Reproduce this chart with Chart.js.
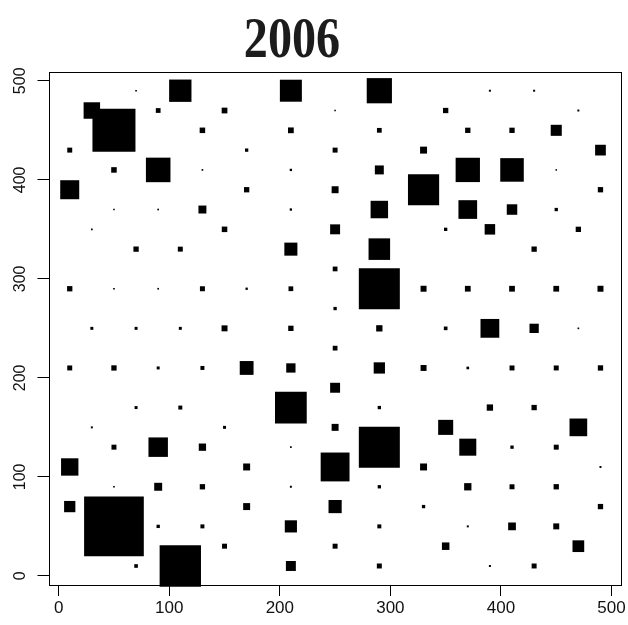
<!DOCTYPE html>
<html>
<head>
<meta charset="utf-8">
<script src="https://cdn.jsdelivr.net/npm/chart.js@4/dist/chart.umd.min.js"></script>
<style>
  html, body { margin: 0; padding: 0; background: #ffffff; }
  #wrap { width: 628px; height: 625px; }
</style>
</head>
<body>
<div id="wrap"><canvas id="c" width="628" height="625"></canvas></div>
<script>
// Square symbols on a 20-unit lattice, one row of the grid per entry.
// rowY: y of the row; rowX: x positions in that row; rowSide: side of each square (x units).
const chartTitle = '2006';
const tickValues = [0, 100, 200, 300, 400, 500];

const rowY = [490, 470, 450, 430, 410, 390, 370, 350, 330, 310, 290, 270, 250,
              230, 210, 190, 170, 150, 130, 110, 90, 70, 50, 30, 10];

const rowX = [
  [70, 110, 210, 290, 390, 430],
  [30, 90, 150, 250, 350, 470],
  [50, 130, 210, 290, 370, 410, 450],
  [10, 170, 250, 330, 490],
  [50, 90, 130, 210, 290, 370, 410, 450],
  [10, 170, 250, 330, 490],
  [50, 90, 130, 210, 290, 370, 410, 450],
  [30, 150, 250, 350, 390, 470],
  [70, 110, 210, 290, 430],
  [250],
  [10, 50, 90, 130, 170, 210, 290, 330, 370, 410, 450, 490],
  [250],
  [30, 70, 110, 150, 210, 290, 350, 390, 430, 470],
  [250],
  [10, 50, 90, 130, 170, 210, 290, 330, 370, 410, 450, 490],
  [250],
  [70, 110, 210, 290, 390, 430],
  [30, 150, 250, 350, 470],
  [50, 90, 130, 210, 290, 370, 410, 450],
  [10, 170, 250, 330, 490],
  [50, 90, 130, 210, 290, 370, 410, 450],
  [10, 170, 250, 330, 490],
  [50, 90, 130, 210, 290, 370, 410, 450],
  [150, 250, 350, 470],
  [70, 110, 210, 290, 390, 430]
];

const rowSide = [
  [1.5, 20.2, 19.9, 22.8, 1.8, 1.8],
  [14.9, 4.3, 5.2, 1.4, 4.8, 1.8],
  [38.9, 5.0, 5.2, 4.3, 4.8, 4.8, 10.0],
  [4.5, 3.0, 4.5, 6.3, 9.7],
  [5.0, 22.2, 1.5, 2.1, 8.1, 22.0, 21.3, 1.4],
  [17.2, 4.8, 6.3, 28.2, 4.8],
  [1.4, 1.5, 7.2, 2.1, 15.8, 16.9, 9.5, 3.0],
  [1.5, 5.0, 9.0, 3.0, 9.5, 4.8],
  [4.8, 4.5, 11.8, 19.5, 4.8],
  [4.3],
  [4.8, 1.5, 1.5, 4.5, 2.1, 4.3, 37.1, 5.4, 5.2, 5.2, 5.2, 5.4],
  [3.0],
  [2.7, 2.7, 2.7, 5.4, 4.8, 5.7, 3.3, 17.0, 8.4, 1.5],
  [4.3],
  [4.5, 4.8, 2.7, 3.6, 12.5, 8.4, 10.2, 5.4, 2.4, 4.5, 4.5, 4.8],
  [9.0],
  [2.7, 3.6, 28.7, 3.0, 5.7, 4.8],
  [1.8, 2.7, 6.3, 13.6, 16.0],
  [4.5, 17.6, 6.6, 1.5, 37.1, 15.4, 3.0, 4.5],
  [15.7, 6.3, 26.1, 6.3, 1.8],
  [1.5, 7.2, 4.8, 1.8, 3.0, 6.6, 4.5, 4.8],
  [10.2, 6.3, 11.9, 3.0, 4.8],
  [54.0, 3.0, 3.6, 11.0, 3.6, 1.8, 7.0, 5.4],
  [4.5, 4.5, 6.8, 10.6],
  [3.3, 37.4, 9.0, 4.5, 1.8, 4.5]
];

// Flatten the rows into scatter points carrying their side length.
const points = [];
rowY.forEach((y, r) => {
  rowX[r].forEach((x, i) => {
    points.push({ x: x, y: y, side: rowSide[r][i] });
  });
});

const axisMin = -9.2;
const axisMax = 509.2;

// Plot frame drawn round the whole chart area.
const framePlugin = {
  id: 'frame',
  beforeDatasetsDraw(chart) {
    const a = chart.chartArea;
    const ctx = chart.ctx;
    ctx.save();
    ctx.strokeStyle = '#000';
    ctx.lineWidth = 1;
    ctx.strokeRect(Math.round(a.left) + 0.5, Math.round(a.top) + 0.5,
                   Math.round(a.right - a.left) - 1, Math.round(a.bottom - a.top));
    ctx.restore();
  }
};

// Heading in a bold, narrow serif.
const headingPlugin = {
  id: 'heading',
  afterDraw(chart) {
    const ctx = chart.ctx;
    ctx.save();
    ctx.fillStyle = '#1c1c1c';
    ctx.font = 'bold 58px "Liberation Serif", "Times New Roman", serif';
    ctx.textAlign = 'center';
    ctx.textBaseline = 'alphabetic';
    ctx.translate(292, 57);
    ctx.scale(0.83, 1);
    ctx.fillText(chartTitle, 0, 0);
    ctx.restore();
  }
};

const setTicks = (scale) => {
  scale.ticks = tickValues.map(v => ({ value: v }));
};

new Chart(document.getElementById('c'), {
  type: 'scatter',
  data: {
    datasets: [{
      data: points,
      pointStyle: 'rect',
      backgroundColor: '#000',
      borderWidth: 0,
      clip: false,
      radius: (ctx) => {
        const p = ctx.raw;
        const xs = ctx.chart.scales.x;
        if (!p || !xs) return 0;
        const sidePx = Math.abs(xs.getPixelForValue(p.side) - xs.getPixelForValue(0));
        return sidePx / Math.SQRT2;
      },
      hoverRadius: 0
    }]
  },
  options: {
    responsive: false,
    devicePixelRatio: 1,
    animation: false,
    events: [],
    layout: { padding: { top: 71.7, right: 6.3, bottom: 0, left: 0 } },
    plugins: {
      legend: { display: false },
      title: { display: false },
      tooltip: { enabled: false }
    },
    scales: {
      x: {
        type: 'linear',
        min: axisMin,
        max: axisMax,
        afterBuildTicks: setTicks,
        afterFit: (s) => { s.height = 40; },
        border: { display: false },
        grid: { display: true, drawOnChartArea: false, drawTicks: true, tickLength: 11, color: '#000', lineWidth: 1 },
        ticks: {
          color: '#111',
          padding: 2,
          maxRotation: 0,
          font: { family: '"Liberation Sans", Arial, sans-serif', size: 17 }
        }
      },
      y: {
        type: 'linear',
        min: axisMin,
        max: axisMax,
        afterBuildTicks: setTicks,
        afterFit: (s) => { s.width = 48.5; },
        border: { display: false },
        grid: { display: true, drawOnChartArea: false, drawTicks: true, tickLength: 11, color: '#000', lineWidth: 1 },
        ticks: {
          color: '#111',
          padding: 4,
          minRotation: 90,
          maxRotation: 90,
          crossAlign: 'center',
          font: { family: '"Liberation Sans", Arial, sans-serif', size: 16 }
        }
      }
    }
  },
  plugins: [framePlugin, headingPlugin]
});
</script>
</body>
</html>
